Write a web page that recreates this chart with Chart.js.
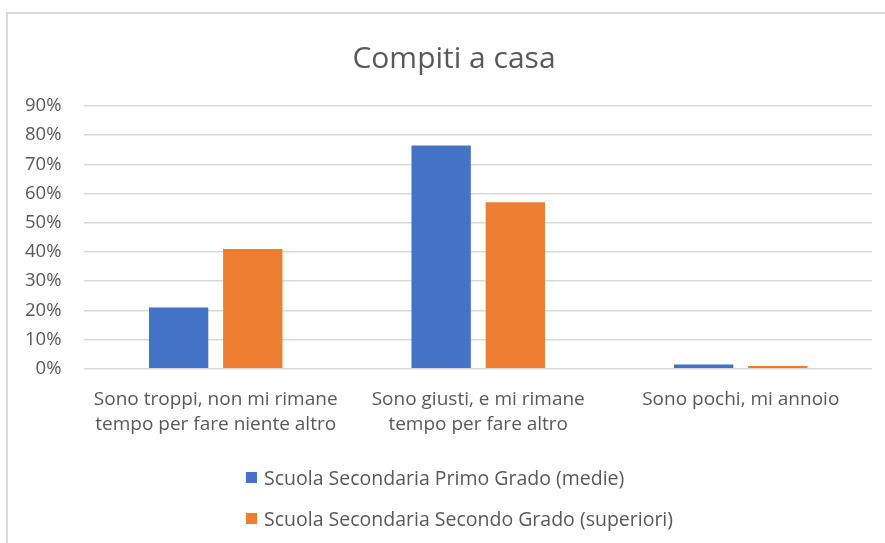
<!DOCTYPE html>
<html lang="it">
<head>
<meta charset="utf-8">
<title>Compiti a casa</title>
<script src="https://cdn.jsdelivr.net/npm/chart.js@4.4.1/dist/chart.umd.min.js"></script>
<style>
  html, body { margin: 0; padding: 0; background: #fff; }
  #wrap { position: relative; width: 885px; height: 543px; overflow: hidden; }
  #frame {
    position: absolute; left: 6px; top: 12px; right: -4px; bottom: -4px;
    border-left: 2px solid #d9d9d9; border-top: 2px solid #d9d9d9;
  }
  #homeworkChart { position: absolute; left: 0; top: 0; }
  #legend {
    position: absolute; left: 246px; top: 465px;
    font-family: "Open Sans", "Noto Sans", sans-serif; font-size: 19.5px; color: #595959;
  }
  #legend .item { display: flex; align-items: center; height: 24px; margin-bottom: 17px; }
  #legend .box { width: 11px; height: 11px; margin-right: 7px; }
</style>
</head>
<body>
<div id="wrap">
  <div id="frame"></div>
  <canvas id="homeworkChart" width="885" height="543"></canvas>
  <div id="legend"></div>
</div>
<script>
const categories = [
  ['Sono troppi, non mi rimane', 'tempo per fare niente altro'],
  ['Sono giusti, e mi rimane', 'tempo per fare altro'],
  'Sono pochi, mi annoio'
];
const seriesNames = [
  'Scuola Secondaria Primo Grado (medie)',
  'Scuola Secondaria Secondo Grado (superiori)'
];
const medieValues = [21, 76.5, 1.5];
const superioriValues = [41, 57, 1];
const seriesColors = ['#4472C4', '#ED7D31'];

const textColor = '#595959';
const fontFamily = '"Open Sans", "Noto Sans", sans-serif';

// centre the title over the framed box rather than the whole canvas
const titleOffset = {
  id: 'titleOffset',
  afterLayout(chart) {
    if (chart.titleBlock) {
      chart.titleBlock.left += 34;
    }
  }
};

const ctx = document.getElementById('homeworkChart').getContext('2d');

const homeworkChart = new Chart(ctx, {
  type: 'bar',
  data: {
    labels: categories,
    datasets: [
      { label: seriesNames[0], data: medieValues, backgroundColor: seriesColors[0] },
      { label: seriesNames[1], data: superioriValues, backgroundColor: seriesColors[1] }
    ]
  },
  options: {
    responsive: false,
    animation: false,
    categoryPercentage: 0.565,
    barPercentage: 0.8,
    layout: { padding: { top: 41, left: 2, right: 13, bottom: 96 } },
    plugins: {
      legend: { display: false },
      tooltip: { enabled: false },
      title: {
        display: true,
        text: 'Compiti a casa',
        color: textColor,
        font: { family: fontFamily, size: 30, weight: 'normal' },
        padding: { top: 0, bottom: 29 }
      }
    },
    scales: {
      x: {
        grid: { display: false },
        border: { display: false },
        ticks: {
          color: textColor,
          font: { family: fontFamily, size: 19, lineHeight: 1.32 },
          padding: 10,
          maxRotation: 0
        }
      },
      y: {
        min: 0,
        max: 90,
        grid: { color: '#d9d9d9', lineWidth: 1.5, drawTicks: false },
        border: { display: false },
        ticks: {
          stepSize: 10,
          color: textColor,
          font: { family: fontFamily, size: 18.5 },
          padding: 23,
          callback: v => v + '%'
        }
      }
    }
  },
  plugins: [titleOffset]
});

// legend listed vertically under the plot, one series per row
const legendEl = document.getElementById('legend');
homeworkChart.data.datasets.forEach(ds => {
  const row = document.createElement('div');
  row.className = 'item';
  const box = document.createElement('span');
  box.className = 'box';
  box.style.background = ds.backgroundColor;
  const label = document.createElement('span');
  label.textContent = ds.label;
  row.appendChild(box);
  row.appendChild(label);
  legendEl.appendChild(row);
});
</script>
</body>
</html>
